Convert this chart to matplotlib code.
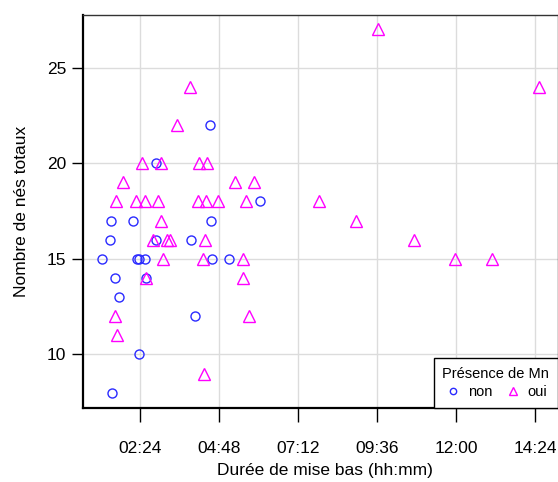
import matplotlib
matplotlib.use("Agg")
import matplotlib.pyplot as plt
from matplotlib.ticker import FuncFormatter

plt.rcParams['font.family'] = ['Liberation Sans', 'DejaVu Sans']

# durée de mise bas en minutes, nombre de nés totaux
non_duree = [75, 89, 91, 99, 106, 93, 142, 131, 139, 142, 153, 155, 173, 173,
             237, 244, 271, 273, 275, 306, 362]
non_nes = [15, 16, 17, 14, 13, 8, 10, 17, 15, 15, 15, 14, 20, 16,
           16, 12, 22, 17, 15, 15, 18]

oui_duree = [577, 235, 871, 211, 148, 182, 251, 266, 113, 317, 351,
             100, 137, 153, 177, 249, 264, 286, 337, 469, 182, 538,
             168, 193, 199, 262, 642, 186, 259, 331, 718, 784, 155, 331,
             99, 342, 102, 260]
oui_nes = [27, 24, 24, 22, 20, 20, 20, 20, 19, 19, 19,
           18, 18, 18, 18, 18, 18, 18, 18, 18, 17, 17,
           16, 16, 16, 16, 16, 15, 15, 15, 15, 15, 14, 14,
           12, 12, 11, 9]

x_ticks = [144, 288, 432, 576, 720, 864]
y_ticks = [10, 15, 20, 25]

fig = plt.figure(figsize=(5.58, 4.82), dpi=100)
ax = fig.add_axes([83 / 558, 1 - 408 / 482, 475 / 558, 393 / 482])

ax.plot(non_duree, non_nes, 'o', ms=6.5, mfc='none', mec='#2a2aff', mew=1, label='non')
ax.plot(oui_duree, oui_nes, '^', ms=8.5, mfc='none', mec='magenta', mew=1, label='oui')

ax.set_xlim(40, 905)
ax.set_ylim(7.2, 27.75)
ax.set_xticks(x_ticks)
ax.set_yticks(y_ticks)
ax.xaxis.set_major_formatter(FuncFormatter(lambda m, p: '%02d:%02d' % (int(m) // 60, int(m) % 60)))
ax.grid(True, color='#dcdcdc', lw=1)
ax.set_axisbelow(True)

ax.tick_params(axis='x', length=10, width=1, pad=14, labelsize=12.5)
ax.tick_params(axis='y', length=8, width=1, pad=4, labelsize=12.5)
for s in ['left', 'bottom']:
    ax.spines[s].set_linewidth(1.6)
for s in ['top', 'right']:
    ax.spines[s].set_linewidth(1.0)
    ax.spines[s].set_color('#333333')

ax.set_xlabel('Durée de mise bas (hh:mm)', fontsize=12.5)
ax.xaxis.set_label_coords(0.51, -0.14)
ax.set_ylabel('Nombre de nés totaux', fontsize=12.5, va='center')
ax.yaxis.set_label_coords(-0.13, 0.5)

leg = ax.legend(title='Présence de Mn', loc='lower right', ncol=2,
                bbox_to_anchor=(1.0, 0.0), borderaxespad=0, fontsize=10.5,
                title_fontsize=10.5, fancybox=False, edgecolor='black',
                handletextpad=0.4, columnspacing=0.8, handlelength=1.2,
                markerscale=0.7, framealpha=1, borderpad=0.6,
                labelspacing=0.3)
leg.get_frame().set_linewidth(1.0)

fig.savefig('out.png', dpi=100)
